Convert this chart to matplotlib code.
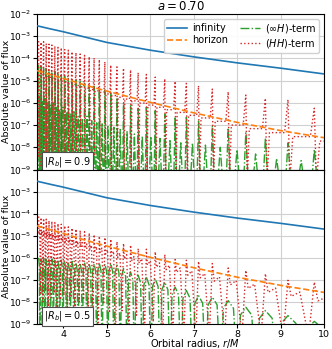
import numpy as np
import matplotlib.pyplot as plt

# orbital radius range (ISCO for a = 0.70 up to r = 10 M)
r_isco = 3.393
r_max = 10.0

# smooth fluxes, log10 values
r_smooth = [3.393, 3.7, 4.0, 4.5, 5.0, 6.0, 7.0, 8.0, 9.0, 10.0]
log_inf = [-2.53, -2.67, -2.80, -3.04, -3.28, -3.63, -3.93, -4.20, -4.44, -4.70]
log_hor = [-4.55, -4.73, -4.90, -5.20, -5.47, -5.98, -6.45, -6.88, -7.25, -7.57]

# resonance radii (same in both panels)
r_res = [3.431, 3.487, 3.545, 3.606, 3.669, 3.735, 3.804, 3.876, 3.952, 4.030,
         4.113, 4.199, 4.290, 4.386, 4.487, 4.594, 4.707, 4.827, 4.954, 5.090,
         5.232, 5.383, 5.545, 5.720, 5.908, 6.112, 6.332, 6.570, 6.828, 7.108,
         7.425, 7.790, 8.195, 8.645, 9.165, 9.770]

# |R_b| = 0.9 panel, log10 of |flux|
hh_peak_09 = [-3.22, -3.27, -3.25, -3.33, -3.36, -3.40, -3.45, -3.50, -3.52, -3.60,
              -3.63, -3.70, -3.74, -3.80, -3.86, -3.92, -3.98, -4.05, -4.15, -4.30,
              -4.38, -4.44, -4.52, -4.64, -4.72, -4.84, -4.92, -5.03, -5.12, -5.23,
              -5.38, -5.50, -5.65, -5.80, -5.85, -6.24]
hh_mid_09 = [-4.71, -4.74, -4.78, -4.81, -4.85, -4.89, -4.93, -4.97, -5.02, -5.06,
             -5.11, -5.17, -5.22, -5.28, -5.34, -5.40, -5.46, -5.53, -5.60, -5.67,
             -5.75, -5.83, -5.91, -6.01, -6.10, -6.20, -6.31, -6.43, -6.56, -6.68,
             -6.83, -7.00, -7.16, -7.34, -7.52, -7.72]
hh_dip_09 = [-8.4, -8.9, -8.2, -8.7, -9.3, -8.5, -8.1, -8.8, -9.5, -8.3,
             -8.6, -9.4, -8.2, -9.0, -8.5, -9.6, -8.4, -9.2, -8.7, -9.6,
             -9.0, -9.6, -8.9, -9.6, -9.6, -9.6, -9.6, -9.6, -9.6, -9.6,
             -9.6, -9.6, -9.6, -9.6, -9.6, -9.6]
ih_peak_09 = [-4.30, -4.35, -4.45, -4.42, -4.55, -4.60, -4.58, -4.70, -4.75, -4.80,
              -4.85, -4.92, -4.98, -5.05, -5.12, -5.20, -5.26, -5.33, -5.42, -5.53,
              -5.76, -5.99, -6.10, -6.25, -6.20, -6.36, -6.50, -6.62, -6.65, -6.82,
              -7.02, -7.12, -7.35, -7.58, -7.80, -8.10]
ih_mid_09 = [-5.7, -5.9, -5.8, -6.0, -6.1, -6.0, -6.2, -6.3, -6.2, -6.4,
             -6.5, -6.4, -6.6, -6.7, -6.6, -6.8, -6.9, -6.9, -7.0, -7.1,
             -7.2, -7.3, -7.4, -7.5, -7.5, -7.6, -7.7, -7.8, -7.8, -7.9,
             -8.0, -8.1, -8.3, -8.5, -8.6, -8.8]

# |R_b| = 0.5 panel
hh_peak_05 = [-4.13, -4.18, -4.22, -4.25, -4.32, -4.35, -4.40, -4.45, -4.48, -4.55,
              -4.60, -4.65, -4.70, -4.76, -4.82, -4.88, -4.95, -5.02, -5.08, -5.16,
              -5.27, -5.35, -5.42, -5.58, -5.61, -5.73, -5.85, -6.08, -6.11, -6.16,
              -6.26, -6.46, -6.57, -6.72, -7.02, -7.10]
hh_mid_05 = [-4.74, -4.77, -4.81, -4.84, -4.88, -4.92, -4.96, -5.00, -5.05, -5.09,
             -5.14, -5.20, -5.25, -5.31, -5.37, -5.43, -5.49, -5.56, -5.63, -5.70,
             -5.78, -5.86, -5.94, -6.04, -6.13, -6.23, -6.34, -6.46, -6.59, -6.71,
             -6.86, -7.03, -7.19, -7.37, -7.55, -7.75]
hh_dip_05 = [-7.6, -8.0, -7.5, -8.3, -7.8, -7.6, -8.6, -7.9, -7.7, -8.4,
             -7.8, -8.9, -8.0, -7.9, -8.7, -8.2, -9.6, -8.1, -8.5, -9.6,
             -8.4, -9.6, -8.6, -9.6, -8.9, -9.6, -9.6, -9.6, -9.6, -9.6,
             -9.6, -9.6, -9.6, -9.6, -9.6, -9.6]
ih_peak_05 = [-6.00, -6.05, -6.02, -6.08, -6.10, -6.06, -6.12, -6.15, -6.10, -6.18,
              -6.20, -6.16, -6.22, -6.24, -6.20, -6.25, -6.27, -6.24, -6.28, -6.26,
              -6.33, -6.49, -6.64, -6.79, -6.87, -6.95, -7.10, -7.33, -7.48, -7.71,
              -7.78, -7.94, -8.24, -8.39, -8.62, -8.88]

ZERO = -11.0  # zeros of the oscillation fall far below the axis


def oscillation(r_pk, parts):
    """Build a polyline through the resonances.
    parts: list of (fraction of spacing after each resonance, values per resonance)."""
    rr, yy = [], []
    n = len(r_pk)
    for i in range(n):
        step = r_pk[i + 1] - r_pk[i] if i < n - 1 else 1.15 * (r_pk[i] - r_pk[i - 1])
        for frac, vals in parts:
            rr.append(r_pk[i] + frac * step)
            yy.append(vals[i])
    return np.array(rr), 10.0 ** np.array(yy)


zeros = [ZERO] * len(r_res)

panels = [
    dict(label=r'$|R_b| = 0.9$',
         hh=[(0.0, hh_peak_09), (0.07, hh_dip_09), (0.18, hh_mid_09), (0.85, hh_mid_09)],
         ih=[(0.0, ih_peak_09), (0.2, zeros), (0.5, ih_mid_09), (0.8, zeros)]),
    dict(label=r'$|R_b| = 0.5$',
         hh=[(0.0, hh_peak_05), (0.12, [v - 0.2 for v in hh_mid_05]), (0.45, hh_mid_05),
             (0.78, hh_dip_05)],
         ih=[(0.0, ih_peak_05), (0.3, [v - 0.35 for v in ih_peak_05]), (0.5, zeros),
             (0.7, [v - 0.35 for v in ih_peak_05[1:] + ih_peak_05[-1:]])]),
]

fig = plt.figure(figsize=(3.32, 3.49), dpi=100)
ax_top = fig.add_axes([0.1114, 0.5143, 0.8654, 0.4456])
ax_bot = fig.add_axes([0.1114, 0.0716, 0.8654, 0.4427], sharex=ax_top)

yt = [1e-9, 1e-8, 1e-7, 1e-6, 1e-5, 1e-4, 1e-3, 1e-2]
ylabels = [r'$10^{%d}$' % e for e in range(-9, -1)]

for ax, p in zip([ax_top, ax_bot], panels):
    ax.set_yscale('log')
    r_ih, f_ih = oscillation(r_res, p['ih'])
    r_hh, f_hh = oscillation(r_res, p['hh'])
    l_inf, = ax.plot(r_smooth, 10.0 ** np.array(log_inf), '-', color='C0', lw=1.2,
                     label='infinity', zorder=5)
    l_hor, = ax.plot(r_smooth, 10.0 ** np.array(log_hor), '--', color='C1', lw=1.2,
                     label='horizon', zorder=4)
    l_ih, = ax.plot(r_ih, f_ih, '-.', color='C2', lw=1.0, label=r'$(\infty H)$-term', zorder=2)
    l_hh, = ax.plot(r_hh, f_hh, ':', color='C3', lw=1.0, label=r'$(HH)$-term', zorder=3)
    ax.set_xlim(r_isco, r_max)
    ax.set_ylim(1e-9, 1e-2)
    ax.yaxis.set_minor_locator(plt.NullLocator())
    ax.grid(True, color='#d0d0d0', lw=0.8)
    ax.set_ylabel('Absolute value of flux', fontsize=6.8)
    ax.yaxis.set_label_coords(-0.09, 0.5)
    ax.tick_params(axis='y', labelsize=6.5, pad=1, length=3)
    ax.tick_params(axis='x', labelsize=6.8, pad=1, length=3)
    ax.text(0.025, 0.035, p['label'], transform=ax.transAxes, fontsize=7, zorder=10,
            bbox=dict(boxstyle='square,pad=0.25', fc='white', ec='0.3', lw=0.8))

ax_top.set_yticks(yt, ylabels)
ax_bot.set_yticks(yt, ylabels[:-1] + [''])
ax_bot.set_xticks([4, 5, 6, 7, 8, 9, 10])
ax_top.tick_params(labelbottom=False)
ax_bot.set_xlabel(r'Orbital radius, $r/M$', fontsize=7)
ax_bot.xaxis.set_label_coords(0.55, -0.087)
ax_top.set_title(r'$a = 0.70$', fontsize=8.5, pad=3)
ax_top.legend(handles=[l_inf, l_hor, l_ih, l_hh], ncol=2, loc='upper right', fontsize=7,
              handlelength=2.0, columnspacing=1.2, borderpad=0.3, labelspacing=0.2,
              handletextpad=0.6, framealpha=0.9)

fig.savefig('out.png', dpi=100)
